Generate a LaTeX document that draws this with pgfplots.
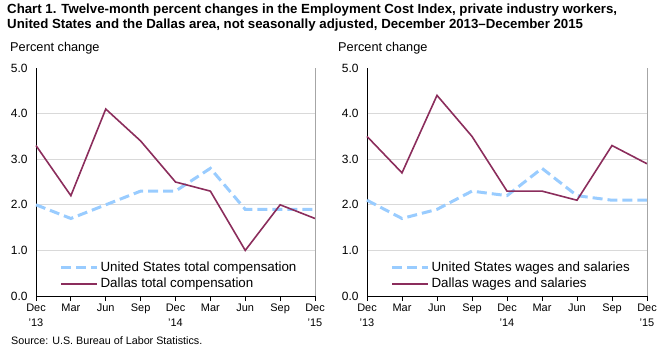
\documentclass[border=0pt]{standalone}
\usepackage{fontspec}
\setmainfont{Liberation Sans}
\usepackage{pgfplots}
\pgfplotsset{compat=1.18}
\definecolor{usblue}{HTML}{99CCFF}
\definecolor{dallas}{HTML}{8B2D5C}
\definecolor{gridgray}{HTML}{D9D9D9}
\pgfplotsset{
  ecistyle/.style={
    scale only axis, width=279bp, height=228bp,
    xmin=0, xmax=8, ymin=0, ymax=5,
    axis lines*=left,
    axis line style={black, line width=0.8bp},
    xtick={0,...,8},
    xticklabels={Dec\\'13,Mar,Jun,Sep,Dec\\'14,Mar,Jun,Sep,Dec\\'15},
    xticklabel style={align=center, font=\fontsize{11}{15}\selectfont, inner sep=2.5bp},
    x tick style={black, line width=0.8bp},
    tick align=outside, major tick length=5bp,
    ytick={1,2,3,4},
    extra y ticks={0,5},
    extra y tick style={grid=none},
    ymajorgrids, grid style={gridgray, line width=0.8bp},
    y tick style={draw=none},
    yticklabel style={font=\fontsize{12}{14}\selectfont, /pgf/number format/.cd, fixed, fixed zerofill, precision=1, assume math mode=true},
    /pgf/number format/assume math mode=true,
    legend style={at={(0.08,0.015)}, anchor=south west, draw=none, fill=none,
      font=\fontsize{13.4}{15}\selectfont, row sep=1bp, inner sep=1bp},
    legend cell align=left,
    legend image code/.code={\draw[##1] (0bp,0bp) -- (36bp,0bp);},
    clip=false,
  },
  usline/.style={usblue, line width=3bp, dash pattern=on 10bp off 5bp},
  dline/.style={dallas, line width=1.6bp},
}
\begin{document}
\begin{tikzpicture}
\path[use as bounding box] (0bp,0bp) rectangle (666bp,351bp);
\node[anchor=base west, inner sep=0, font=\bfseries\fontsize{13.3}{15}\selectfont] at (7bp,337bp) {Chart 1. Twelve-month percent changes in the Employment Cost Index, private industry workers,};
\node[anchor=base west, inner sep=0, font=\bfseries\fontsize{13.3}{15}\selectfont] at (7bp,322bp) {United States and the Dallas area, not seasonally adjusted, December 2013--December 2015};
\node[anchor=base west, inner sep=0, font=\fontsize{12.8}{14}\selectfont] at (10bp,299bp) {Percent change};
\node[anchor=base west, inner sep=0, font=\fontsize{12.8}{14}\selectfont] at (338bp,299bp) {Percent change};
\node[anchor=base west, inner sep=0, font=\fontsize{10.8}{12}\selectfont] at (11bp,7bp) {Source: U.S. Bureau of Labor Statistics.};

\begin{axis}[ecistyle, at={(36bp,55bp)}, anchor=south west]
\addplot[usline] coordinates {(0,2.0) (1,1.7) (2,2.0) (3,2.3) (4,2.3) (5,2.8) (6,1.9) (7,1.9) (8,1.9)};
\addlegendentry{United States total compensation}
\addplot[dline] coordinates {(0,3.3) (1,2.2) (2,4.1) (3,3.4) (4,2.5) (5,2.3) (6,1.0) (7,2.0) (8,1.7)};
\addlegendentry{Dallas total compensation}
\draw[gray!70, line width=0.8bp] (rel axis cs:1,0) -- (rel axis cs:1,1);
\end{axis}

\begin{axis}[ecistyle, width=280bp, at={(367bp,55bp)}, anchor=south west]
\addplot[usline] coordinates {(0,2.1) (1,1.7) (2,1.9) (3,2.3) (4,2.2) (5,2.8) (6,2.2) (7,2.1) (8,2.1)};
\addlegendentry{United States wages and salaries}
\addplot[dline] coordinates {(0,3.5) (1,2.7) (2,4.4) (3,3.5) (4,2.3) (5,2.3) (6,2.1) (7,3.3) (8,2.9)};
\addlegendentry{Dallas wages and salaries}
\draw[gray!70, line width=0.8bp] (rel axis cs:1,0) -- (rel axis cs:1,1);
\end{axis}
\end{tikzpicture}
\end{document}
